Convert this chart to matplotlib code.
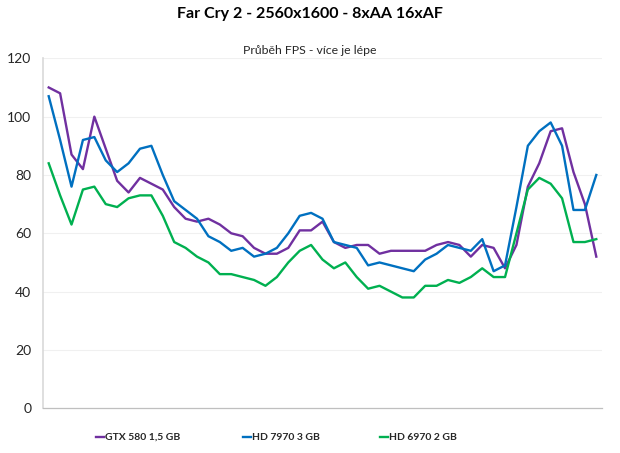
import matplotlib
matplotlib.use("Agg")
import matplotlib.pyplot as plt
import numpy as np

plt.rcParams['font.family'] = ['Lato', 'DejaVu Sans']

title = "Far Cry 2 - 2560x1600 - 8xAA 16xAF"
subtitle = "Průběh FPS - více je lépe"
series_names = ["GTX 580 1,5 GB", "HD 7970 3 GB", "HD 6970 2 GB"]
colors = ["#7030A0", "#0070C0", "#00B050"]

gtx580 = [110, 108, 87, 82, 100, 89, 78, 74, 79, 77, 75, 69, 65, 64, 65, 63, 60, 59, 55, 53,
          53, 55, 61, 61, 64, 57, 55, 56, 56, 53, 54, 54, 54, 54, 56, 57, 56, 52, 56, 55,
          48, 56, 76, 84, 95, 96, 81, 70, 52]
hd7970 = [107, 92, 76, 92, 93, 85, 81, 84, 89, 90, 80, 71, 68, 65, 59, 57, 54, 55, 52, 53,
          55, 60, 66, 67, 65, 57, 56, 55, 49, 50, 49, 48, 47, 51, 53, 56, 55, 54, 58, 47,
          49, 69, 90, 95, 98, 90, 68, 68, 80]
hd6970 = [84, 73, 63, 75, 76, 70, 69, 72, 73, 73, 66, 57, 55, 52, 50, 46, 46, 45, 44, 42,
          45, 50, 54, 56, 51, 48, 50, 45, 41, 42, 40, 38, 38, 42, 42, 44, 43, 45, 48, 45,
          45, 60, 75, 79, 77, 72, 57, 57, 58]
yticks = [0, 20, 40, 60, 80, 100, 120]

fig = plt.figure(figsize=(6.2, 4.53), dpi=100)
ax = fig.add_axes([43/620, 1-408.3/453, (602-43)/620, (408.3-58.3)/453])

x = np.arange(len(gtx580))
lines = []
for data, c, name in zip([gtx580, hd7970, hd6970], colors, series_names):
    ln, = ax.plot(x, data, color=c, linewidth=1.7, label=name, solid_joinstyle='round')
    lines.append(ln)

ax.set_xlim(-0.5, len(x) - 0.5)
ax.set_ylim(0, 120)
ax.set_yticks(yticks)
ax.set_xticks([])
ax.grid(axis='y', color='#F0F0F0', linewidth=0.8)
ax.set_axisbelow(True)
for s in ['top', 'right']:
    ax.spines[s].set_visible(False)
ax.spines['left'].set_color('#D9D9D9')
ax.spines['left'].set_linewidth(1.2)
ax.spines['bottom'].set_color('#BFBFBF')
ax.spines['bottom'].set_linewidth(0.9)
ax.tick_params(axis='y', length=0, labelsize=10, pad=8.5, labelcolor='#262626')

fig.text(0.5, 1-14/453, title, ha='center', va='center', fontsize=11.5,
         fontweight='bold', color='#000000')
fig.text(0.5, 1-50/453, subtitle, ha='center', va='center', fontsize=8.8,
         color='#262626')

leg_x = [96, 243, 380]
for ln, lx, name in zip(lines, leg_x, series_names):
    fig.lines.append(matplotlib.lines.Line2D([lx/620, (lx+8)/620], [1-437/453, 1-437/453],
                                             color=ln.get_color(), linewidth=1.7,
                                             transform=fig.transFigure))
    fig.text((lx+9)/620, 1-437/453, name, ha='left', va='center', fontsize=7.5,
             fontweight='bold', color='#262626')

fig.savefig("out.png", dpi=100, facecolor='white')
